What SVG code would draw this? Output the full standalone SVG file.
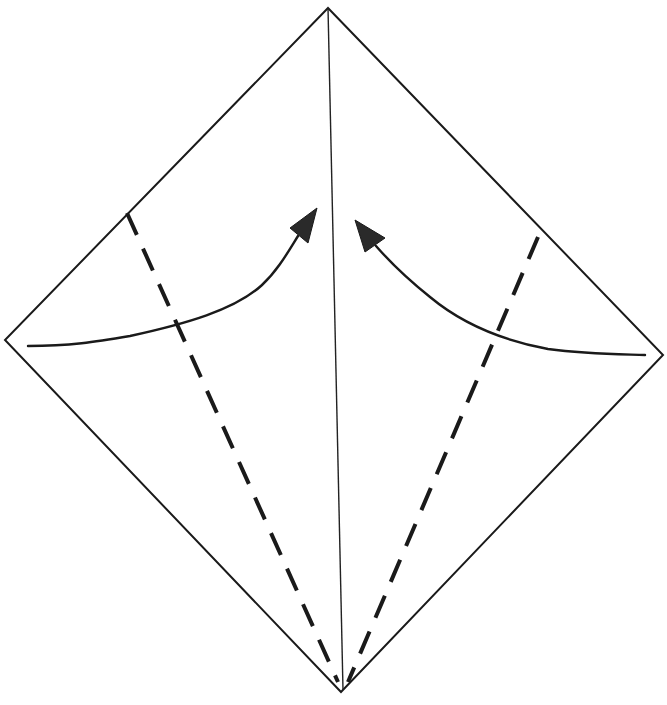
<svg xmlns="http://www.w3.org/2000/svg" width="667" height="705" viewBox="0 0 667 705">
<defs>
<style>
.edge{fill:none;stroke:#1a1a1a;stroke-width:2;stroke-linejoin:miter}
.crease{fill:none;stroke:#222;stroke-width:1.4}
.valley{fill:none;stroke:#1a1a1a;stroke-width:4;stroke-dasharray:24 15}
.arrow{fill:none;stroke:#1a1a1a;stroke-width:2.4;stroke-linecap:round}
.head{fill:#2a2a2a;stroke:#1a1a1a;stroke-width:1}
</style>
</defs>
<rect width="667" height="705" fill="#ffffff"/>
<g id="paper">
<polygon class="edge" points="328,8 663,355 341,692 5,340"/>
<line class="crease" x1="328" y1="8" x2="343" y2="690"/>
</g>
<g id="folds">
<line class="valley" x1="127" y1="213" x2="338" y2="682"/>
<line class="valley" x1="538" y1="237" x2="348" y2="682"/>
</g>
<g id="connectors">
<path class="arrow" d="M28,346 C70,346 95,342 130,336 C185,324 235,310 262,285 C278,270 288,252 298,236"/>
<polygon class="head" points="317,208 290,228 308,243"/>
<path class="arrow" d="M645,355 C610,354 585,354 548,349 C500,340 460,322 430,297 C405,277 390,262 376,246"/>
<polygon class="head" points="355,220 365,252 385,238"/>
</g>
</svg>
